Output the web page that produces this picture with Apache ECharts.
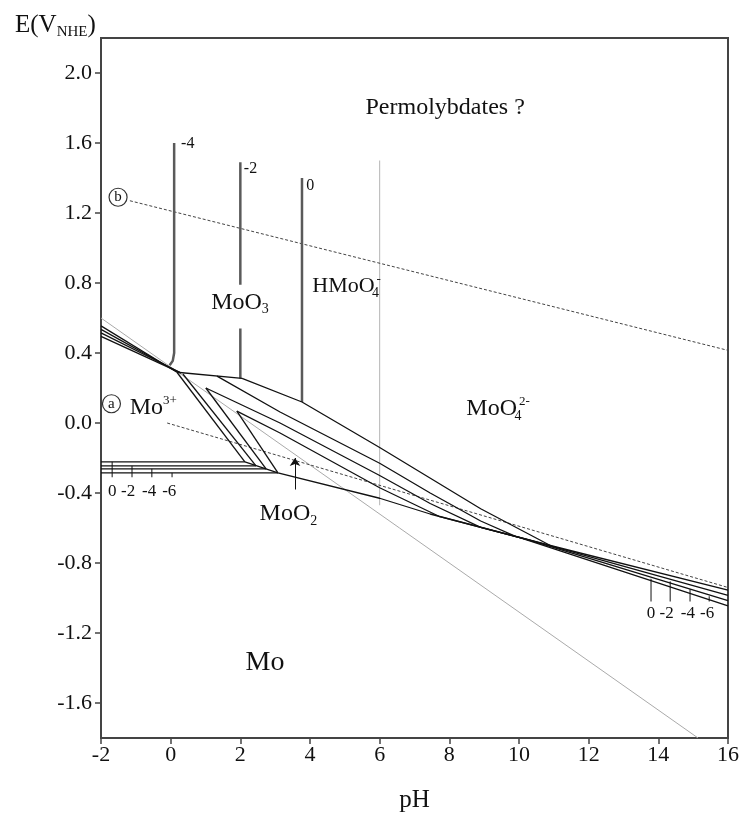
<!DOCTYPE html>
<html><head><meta charset="utf-8">
<script src="https://cdn.jsdelivr.net/npm/echarts@6/dist/echarts.min.js"></script>
<style>html,body{margin:0;padding:0;background:#fff}#c{width:743px;height:821px}</style>
</head><body><div id="c"></div>
<script>
// ---- axis ticks ----
const eTicks = [-1.6, -1.2, -0.8, -0.4, 0.0, 0.4, 0.8, 1.2, 1.6, 2.0];

// ---- water lines (a) and (b), dashed ----
const lineA = [[-0.1, 0.0], [16, -0.94]];
const lineB = [[-1.17, 1.27], [16, 0.415]];

// ---- grey reference lines ----
const grayDiag = [[-2, 0.60], [15.14, -1.80]];
const grayV6 = [[6.0, 1.50], [6.0, -0.47]];

// ---- MoO3 / HMoO4- boundaries (log c = -4, -2, 0) ----
const vline4 = [[0.1, 1.6], [0.1, 0.40], [0.06, 0.355], [-0.03, 0.33]];
const vline2a = [[2.0, 1.49], [2.0, 0.79]];
const vline2b = [[2.0, 0.54], [2.0, 0.255]];
const vline0 = [[3.77, 1.40], [3.77, 0.12]];

// ---- upper-left Mo3+ boundaries ----
const left1 = [[-2, 0.555], [0.18, 0.29]];
const left2 = [[-2, 0.535], [0.22, 0.29]];
const left3 = [[-2, 0.515], [0.26, 0.29]];
const left4 = [[-2, 0.495], [0.30, 0.285]];

// ---- Mo3+/MoO2 steep boundaries ----
const steep0 = [[0.18, 0.29], [2.13, -0.222]];
const steep2 = [[0.35, 0.28], [2.45, -0.245]];
const steep4 = [[1.01, 0.20], [2.74, -0.262]];
const steep6 = [[1.90, 0.068], [3.08, -0.285]];

// ---- Mo/Mo3+ horizontal boundaries ----
const horiz0 = [[-2, -0.222], [2.13, -0.222]];
const horiz2 = [[-2, -0.245], [2.45, -0.245]];
const horiz4 = [[-2, -0.262], [2.74, -0.262]];
const horiz6 = [[-2, -0.285], [3.08, -0.285]];

// ---- MoO3/MoO2 and upper MoO2 boundaries ----
const moo2Top = [[0.18, 0.29], [2.05, 0.255]];
const upper0 = [[2.05, 0.255], [3.77, 0.12], [6.0, -0.14], [8.9, -0.49], [10.9, -0.70], [16, -0.955]];
const upper2 = [[1.33, 0.268], [3.14, 0.063], [6.0, -0.23], [7.45, -0.40], [8.9, -0.56], [9.9, -0.648], [10.6, -0.685], [16, -0.985]];
const upper4 = [[1.01, 0.20], [3.14, 0.0], [6.0, -0.30], [7.45, -0.46], [8.9, -0.596], [10.3, -0.669], [16, -1.015]];
const upper6 = [[1.90, 0.068], [3.14, -0.057], [6.0, -0.37], [7.7, -0.533], [10.0, -0.653], [16, -1.045]];

// ---- Mo/MoO2 boundary ----
const moMoO2 = [[2.13, -0.222], [3.08, -0.285], [6.0, -0.43], [7.45, -0.52], [10.9, -0.70]];

// ---- arrow ----
const arrowLine = [[3.57, -0.38], [3.57, -0.20]];

// ---- concentration marks ----
const concNames = ['0', '-2', '-4', '-6'];
const leftMarkPH = [-1.68, -1.11, -0.54, 0.04];
const leftMarkTop = [-0.222, -0.245, -0.262, -0.285];
const leftMarkBottom = -0.31;
const leftLabelPH = [-1.68, -1.22, -0.62, -0.04];
const leftLabelE = -0.39;
const rightMarkPH = [13.79, 14.34, 14.91, 15.46];
const rightMarkTop = [-0.89, -0.905, -0.95, -0.99];
const rightMarkBottom = -1.02;
const rightLabelPH = [13.79, 14.24, 14.85, 15.40];
const rightLabelE = -1.09;

// ---- texts (pH, E) ----
const vlineLabels = [['-4', 0.30, 1.595], ['-2', 2.10, 1.45], ['0', 3.89, 1.356]];
const regionLabels = [
  ['{a|Permolybdates ?}', 7.88, 1.80],
  ['{a|MoO}{s|3}', 1.99, 0.69],
  ['{h|HMoO}{z|4}{p|-}', 5.05, 0.78],
  ['{a|MoO}{z|4}{p|2-}', 9.4, 0.08],
  ['{a|Mo}{p|3+}', -0.50, 0.09],
  ['{a|MoO}{s|2}', 3.38, -0.52],
  ['{m|Mo}', 2.71, -1.37]
];
const circleLabels = [['a', -1.70, 0.11], ['b', -1.51, 1.29]];

const SERIF = '"Liberation Serif","Times New Roman","DejaVu Serif",serif';
const TXT = '#111';

function ln(data, color, width, type, z) {
  return {type: 'line', data: data, showSymbol: false, symbol: 'none', silent: true,
    lineStyle: {color: color, width: width, type: type || 'solid'}, z: z || 3, animation: false};
}

const series = [];
series.push(ln(grayDiag, '#aaaaaa', 1, 'solid', 2));
series.push(ln(grayV6, '#b5b5b5', 1, 'solid', 2));
series.push(ln(lineA, '#444', 1, [3, 2], 2));
series.push(ln(lineB, '#444', 1, [3, 2], 2));
[vline4, vline2a, vline2b, vline0].forEach(d => series.push(ln(d, '#5a5a5a', 2.5)));
[left1, left2, left3, left4, steep0, steep2, steep4, steep6, horiz0, horiz2, horiz4, horiz6,
 moo2Top, upper0, upper2, upper4, upper6, moMoO2].forEach(d => series.push(ln(d, '#111', 1.3)));
leftMarkPH.forEach((x, i) => series.push(ln([[x, leftMarkTop[i]], [x, leftMarkBottom]], '#111', 1)));
rightMarkPH.forEach((x, i) => series.push(ln([[x, rightMarkTop[i]], [x, rightMarkBottom]], '#111', 1)));

series.push({type: 'lines', coordinateSystem: 'cartesian2d', polyline: false, silent: true, animation: false,
  symbol: ['none', 'arrow'], symbolSize: 8, lineStyle: {color: '#111', width: 1, opacity: 1},
  data: [{coords: arrowLine}], z: 4});

const NB = {textBorderWidth: 0, textBorderColor: 'transparent', textShadowBlur: 0, opacity: 1};
const rich = {
  a: Object.assign({fontFamily: SERIF, fontSize: 24, color: TXT}, NB),
  h: Object.assign({fontFamily: SERIF, fontSize: 22, color: TXT}, NB),
  m: Object.assign({fontFamily: SERIF, fontSize: 28, color: TXT}, NB),
  s: Object.assign({fontFamily: SERIF, fontSize: 14, color: TXT, padding: [14, 0, 0, 0]}, NB),
  z: Object.assign({fontFamily: SERIF, fontSize: 14, color: TXT, padding: [14, 0, 0, 0], width: 2, align: 'left'}, NB),
  p: Object.assign({fontFamily: SERIF, fontSize: 13, color: TXT, padding: [0, 0, 14, 0]}, NB)
};
const textData = [];
regionLabels.forEach(r => textData.push({value: [r[1], r[2]],
  label: Object.assign({show: true, position: 'inside', formatter: r[0], rich: rich, color: TXT}, NB)}));
vlineLabels.forEach(r => textData.push({value: [r[1], r[2]],
  label: Object.assign({show: true, position: 'right', distance: 0, formatter: r[0], fontFamily: SERIF, fontSize: 16, color: TXT}, NB)}));
concNames.forEach((n, i) => {
  textData.push({value: [leftLabelPH[i], leftLabelE],
    label: Object.assign({show: true, position: 'inside', formatter: n, fontFamily: SERIF, fontSize: 17, color: TXT}, NB)});
  textData.push({value: [rightLabelPH[i], rightLabelE],
    label: Object.assign({show: true, position: 'inside', formatter: n, fontFamily: SERIF, fontSize: 17, color: TXT}, NB)});
});
series.push({type: 'scatter', symbolSize: 0, silent: true, animation: false, data: textData, z: 6,
  itemStyle: {color: 'rgba(0,0,0,0)', opacity: 1}});

series.push({type: 'scatter', symbol: 'circle', symbolSize: 18, silent: true, animation: false, z: 7,
  itemStyle: {color: '#fff', borderColor: '#333', borderWidth: 1.2, opacity: 1},
  data: circleLabels.map(c => ({value: [c[1], c[2]],
    label: Object.assign({show: true, position: 'inside', formatter: c[0], fontFamily: SERIF, fontSize: 15, color: TXT}, NB)}))});

const option = {
  backgroundColor: '#fff',
  animation: false,
  title: {
    left: 10, top: 6,
    text: '{a|E(V}{s|NHE}{a|)}',
    textStyle: {rich: {
      a: {fontFamily: SERIF, fontSize: 25, color: TXT, fontWeight: 'normal'},
      s: {fontFamily: SERIF, fontSize: 15, color: TXT, fontWeight: 'normal', padding: [14, 0, 0, 0]}
    }}
  },
  grid: {left: 101, right: 15, top: 38, bottom: 83, show: true, borderColor: '#444', borderWidth: 2, containLabel: false},
  xAxis: {
    type: 'value', min: -2, max: 16, interval: 2,
    name: 'pH', nameLocation: 'middle', nameGap: 50,
    nameTextStyle: {fontFamily: SERIF, fontSize: 25, color: TXT},
    axisLine: {show: true, onZero: false, lineStyle: {color: '#444', width: 2}},
    axisTick: {show: true, inside: false, length: 6, lineStyle: {color: '#444', width: 1.5}},
    axisLabel: {fontFamily: SERIF, fontSize: 22, color: TXT, margin: 6},
    splitLine: {show: false}
  },
  yAxis: {
    type: 'value', min: -1.8, max: 2.2,
    axisLine: {show: true, onZero: false, lineStyle: {color: '#444', width: 2}},
    axisTick: {show: true, inside: false, length: 6, customValues: eTicks, lineStyle: {color: '#444', width: 1.5}},
    axisLabel: {fontFamily: SERIF, fontSize: 22, color: TXT, margin: 9, customValues: eTicks,
      formatter: v => Number(v).toFixed(1)},
    splitLine: {show: false}
  },
  series: series
};
const chart = echarts.init(document.getElementById('c'));
chart.setOption(option);
</script></body></html>
